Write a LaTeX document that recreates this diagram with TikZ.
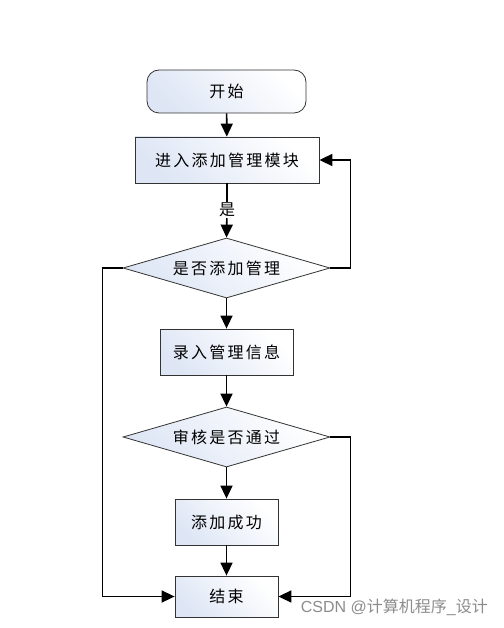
\documentclass[tikz,border=0pt]{standalone}
\usepackage{fontspec}
\newfontfamily\cjk[LetterSpace=14]{Noto Sans CJK SC}
\newfontfamily\cjkw{Noto Sans CJK SC}
\usetikzlibrary{shapes.geometric,arrows.meta}
\definecolor{shadeblue}{RGB}{222,230,245}
\begin{document}
\begin{tikzpicture}[x=1pt,y=-1pt,
  txt/.style={font=\cjk\fontsize{16}{19}\selectfont},
  box/.style={txt,draw=black!80,line width=0.8pt,left color=shadeblue,right color=white,shading angle=135,inner sep=0pt},
  dia/.style={txt,diamond,aspect=3.45,draw=black!80,line width=0.8pt,left color=shadeblue,right color=white,shading angle=135,inner sep=0pt},
  flow/.style={line width=1.6pt,-{Triangle[length=13pt,width=12pt]}},
  plain/.style={line width=1.6pt}]
\useasboundingbox (0,0) rectangle (503,628);
\fill[white] (0,0) rectangle (503,628);
\node[box,rounded corners=12pt,minimum width=159pt,minimum height=43pt] (start) at (226.5,91.5) {开始};
\node[box,minimum width=184pt,minimum height=46pt] (enter) at (227,160) {进入添加管理模块};
\node[txt,draw=none,fill=none,inner sep=1pt] (yes) at (227,210) {是};
\node[dia,minimum width=207pt,minimum height=60pt] (d1) at (226.5,268) {是否添加管理};
\node[box,minimum width=133pt,minimum height=46pt] (input) at (226.5,352) {录入管理信息};
\node[dia,minimum width=207pt,minimum height=60pt] (d2) at (226.5,437) {审核是否通过};
\node[box,minimum width=103pt,minimum height=46pt] (ok) at (226.5,522) {添加成功};
\node[box,minimum width=103pt,minimum height=41pt] (end) at (226.5,596.5) {结束};
\node[anchor=east,text=black!45,font=\fontspec{Liberation Sans}\fontsize{16}{18}\selectfont,inner sep=0pt] (wm) at (488,607) {CSDN @{\cjkw 计算机程序}\_{\cjkw 设计}};
\draw[flow] (start) -- (enter);
\draw[plain] (enter) -- (yes);
\draw[flow] (yes) -- (d1.north);
\draw[flow] (d1.south) -- (input);
\draw[flow] (input) -- (d2.north);
\draw[flow] (d2.south) -- (ok);
\draw[flow] (ok) -- (end);
\draw[flow] (d1.east) -- ++(20,0) |- (enter.east);
\draw[flow] (d1.west) -- ++(-20,0) |- (end.west);
\draw[flow] (d2.east) -- ++(20,0) |- (end.east);
\end{tikzpicture}
\end{document}
